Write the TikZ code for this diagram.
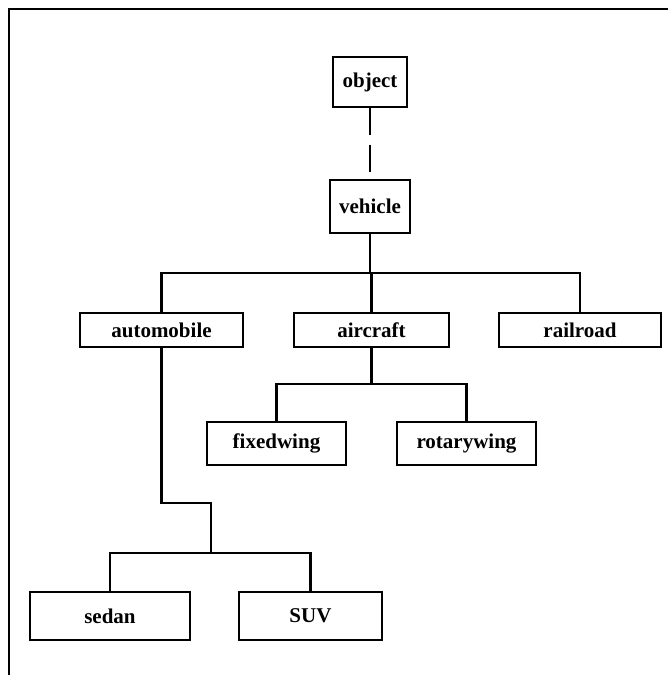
\documentclass[tikz,border=0pt]{standalone}
\usepackage{fontspec}
\setmainfont{Liberation Serif}
\begin{document}
\begin{tikzpicture}[x=1pt,y=1pt,
  cls/.style={draw, line width=1.4pt, rectangle, inner sep=0pt,
    font=\fontsize{21}{24}\selectfont\bfseries},
  conn/.style={line width=2.8pt},
  frame/.style={line width=1.6pt}]
\useasboundingbox (0,0) rectangle (668,-675);

% page frame (top and left edges)
\draw[frame] (9,-675) -- (9,-9) -- (668,-9);

% class boxes
\node[cls, minimum width=74pt, minimum height=50pt] (object) at (370,-82) {object};
\node[cls, minimum width=80pt, minimum height=53pt] (vehicle) at (370,-206.5) {vehicle};
\node[cls, minimum width=163pt, minimum height=34pt] (automobile) at (161.5,-330) {automobile};
\node[cls, minimum width=155pt, minimum height=34pt] (aircraft) at (371.5,-330) {aircraft};
\node[cls, minimum width=162pt, minimum height=34pt] (railroad) at (580,-330) {railroad};
\node[cls, minimum width=139pt, minimum height=43pt] (fixedwing) at (276.5,-443.5) {fixedwing};
\node[cls, minimum width=139pt, minimum height=43pt] (rotarywing) at (466.5,-443.5) {rotarywing};
\node[cls, minimum width=160pt, minimum height=48pt] (sedan) at (110,-616) {sedan};
\node[cls, minimum width=143pt, minimum height=48pt] (suv) at (310.5,-616) {SUV};

% junction points
\coordinate (vb) at (370,-273);
\coordinate (ab) at (371.5,-384);
\coordinate (bend) at (211,-503);
\coordinate (sb) at (211,-553);

% object to vehicle
\draw[line width=1.4pt, dash pattern=on 27pt off 10pt] (object.south) -- (vehicle.north);

% vehicle subclasses
\draw[conn] (vehicle.south) -- (vb);
\draw[conn] (automobile.north) |- (vb) -| (railroad.north);
\draw[conn] (vb -| aircraft.north) -- (aircraft.north);

% aircraft subclasses
\draw[conn] (aircraft.south) -- (ab);
\draw[conn] (fixedwing.north) |- (ab) -| (rotarywing.north);

% automobile subclasses
\draw[conn] (automobile.south) |- (bend) -- (sb);
\draw[conn] (sedan.north) |- (sb) -| (suv.north);
\end{tikzpicture}
\end{document}
